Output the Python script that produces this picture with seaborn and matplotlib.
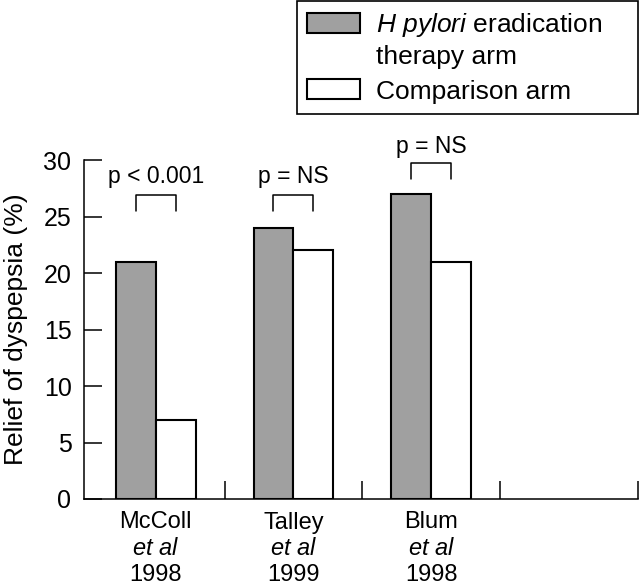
import matplotlib
matplotlib.use("Agg")
import matplotlib.pyplot as plt
import matplotlib.patches as mpatches
import seaborn as sns
import pandas as pd

# ---- data ----
studies = ["McColl\n$\\it{et\\ al}$\n1998", "Talley\n$\\it{et\\ al}$\n1999", "Blum\n$\\it{et\\ al}$\n1998"]
arms = ["H pylori eradication therapy arm", "Comparison arm"]
eradication = [21, 24, 27]
comparison = [7, 22, 21]
p_labels = ["p < 0.001", "p = NS", "p = NS"]
p_text_y = [28.0, 28.0, 30.6]
bracket_top = [26.9, 26.9, 29.7]
bracket_bottom = [25.5, 25.5, 28.3]
yticks = [0, 5, 10, 15, 20, 25, 30]

df = pd.DataFrame({
    "study": studies * 2,
    "arm": [arms[0]] * 3 + [arms[1]] * 3,
    "value": eradication + comparison,
})

sns.set_theme(style="white")
plt.rcParams["font.family"] = ["Liberation Sans", "DejaVu Sans"]
plt.rcParams["mathtext.fontset"] = "custom"
plt.rcParams["mathtext.rm"] = "Liberation Sans"
plt.rcParams["mathtext.it"] = "Liberation Sans:italic"
plt.rcParams["mathtext.bf"] = "Liberation Sans:bold"

fig = plt.figure(figsize=(6.4, 5.86), dpi=100)
ax = fig.add_axes([84 / 640, 87 / 586, 554 / 640, 339 / 586])

gray = "#a0a0a0"
sns.barplot(data=df, x="study", y="value", hue="arm", hue_order=arms,
            palette=[gray, "white"], width=0.58, edgecolor="black",
            linewidth=1.5, saturation=1, legend=False, ax=ax, errorbar=None)

ax.set_xlim(-0.52, 3.49)
ax.set_ylim(0, 30)
ax.set_yticks(yticks)
ax.set_yticklabels([str(t) for t in yticks])

for s in ["top", "right"]:
    ax.spines[s].set_visible(False)
for s in ["left", "bottom"]:
    ax.spines[s].set_color("black")
    ax.spines[s].set_linewidth(1.1)

ax.tick_params(axis="y", direction="in", length=13, width=1.1, pad=9,
               labelsize=18, colors="black", left=True)
ax.tick_params(axis="x", which="major", length=0, pad=9, labelsize=17,
               colors="black")
ax.set_xticks([0.5, 1.5, 2.5, 3.5], minor=True)
ax.tick_params(axis="x", which="minor", direction="in", length=13, width=1.1,
               bottom=True, colors="black")
for lab in ax.get_xticklabels():
    lab.set_linespacing(1.25)

ax.set_xlabel("")
ax.set_ylabel("Relief of dyspepsia (%)", fontsize=19, labelpad=11, color="black")

# significance brackets
for i in range(3):
    x0, x1 = i - 0.145, i + 0.145
    ax.plot([x0, x0, x1, x1], [bracket_bottom[i], bracket_top[i], bracket_top[i], bracket_bottom[i]],
            color="black", lw=1.1, clip_on=False)
    ax.text(i, p_text_y[i], p_labels[i], ha="center", va="baseline", fontsize=16.5,
            color="black", clip_on=False)

# legend
handles = [
    mpatches.Patch(facecolor=gray, edgecolor="black", linewidth=1.5),
    mpatches.Patch(facecolor="none", edgecolor="none"),
    mpatches.Patch(facecolor="white", edgecolor="black", linewidth=1.5),
]
labels = ["$\\it{H\\ pylori}$ eradication", "therapy arm", "Comparison arm"]
leg = fig.legend(handles, labels, loc="upper left",
                 bbox_to_anchor=(297 / 640, 0.809, 341 / 640, 0.189),
                 mode="expand", borderaxespad=0, fontsize=19,
                 handlelength=2.0, handleheight=0.8, handletextpad=0.6,
                 labelspacing=0.3, borderpad=0.38, fancybox=False,
                 frameon=True)
leg.get_frame().set_edgecolor("black")
leg.get_frame().set_linewidth(1.2)
leg.get_frame().set_alpha(None)
for t in leg.get_texts():
    t.set_color("black")
# second line of the first label sits a little closer to the first line
leg.get_texts()[1].set_position((0, 2))

fig.savefig("out.png", dpi=100)
